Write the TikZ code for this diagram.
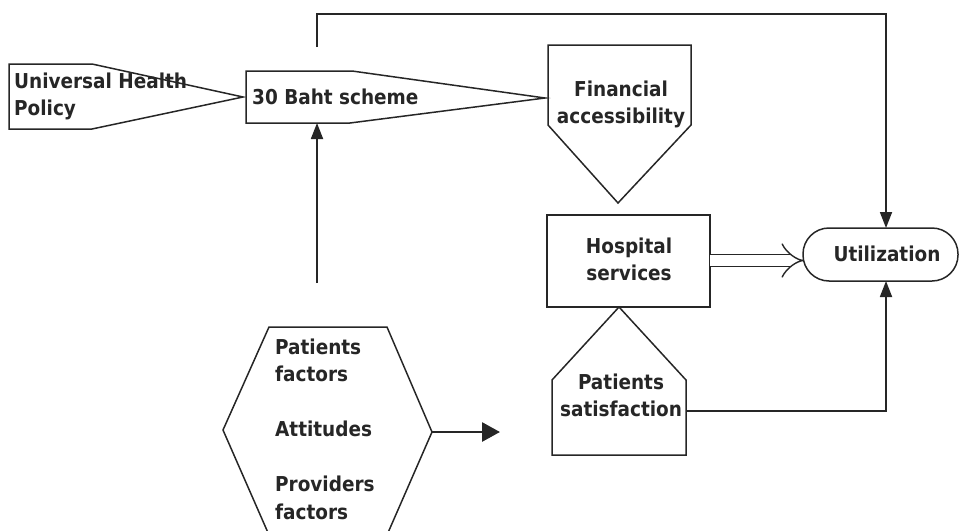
\documentclass[tikz,border=0pt]{standalone}
\usepackage{fontspec}
\setmainfont{DejaVu Sans Condensed}
\usetikzlibrary{arrows.meta}
\begin{document}
\begin{tikzpicture}[x=1pt,y=-1pt,
  shapeline/.style={draw=black!85, line width=1.5pt, line join=miter},
  lbl/.style={font=\bfseries\fontsize{20.5}{27}\selectfont, text=black!85, inner sep=0pt},
  conn/.style={draw=black!85, line width=1.8pt},
  tipA/.style={-{Triangle[length=16pt,width=12pt]}}]
\useasboundingbox (0,0) rectangle (960,530);
% shapes
\draw[shapeline] (9,64) -- (92,64) -- (243,97) -- (92,129) -- (9,129) -- cycle;
\draw[shapeline] (246,71) -- (352,71) -- (545,98) -- (350,123) -- (246,123) -- cycle;
\draw[shapeline] (548,45) -- (691,45) -- (691,125) -- (618,203) -- (548,125) -- cycle;
\draw[shapeline] (547,215) rectangle (710,307);
\draw[shapeline] (619,307) -- (686,380) -- (686,455) -- (552,455) -- (552,380) -- cycle;
\draw[shapeline] (269,327) -- (387,327) -- (432,432) -- (387,535) -- (269,535) -- (223,430) -- cycle;
\draw[shapeline, rounded corners=26pt] (803,228) rectangle (958,281);
% texts
\node[lbl, anchor=west, align=left] (uhp) at (14,96) {Universal Health\\Policy};
\node[lbl, anchor=west] (baht) at (252,97) {30 Baht scheme};
\node[lbl, align=center] (fin) at (621,104) {Financial\\accessibility};
\node[lbl, align=center] (hosp) at (629,259) {Hospital\\services};
\node[lbl] (util) at (887,254) {Utilization};
\node[lbl, align=center] (sat) at (621,395) {Patients\\satisfaction};
\node[lbl, anchor=west, align=left, font=\bfseries\fontsize{20.5}{27.5}\selectfont] (hex) at (275,429)
  {Patients\\factors\\[27.5pt]Attitudes\\[27.5pt]Providers\\factors};
% coordinates
\coordinate (bahtTop) at (317,47);
\coordinate (bahtBot) at (317,123);
\coordinate (cornerA) at (317,14);
\coordinate (cornerB) at (886,14);
\coordinate (utilTop) at (886,228);
\coordinate (utilBot) at (886,281);
\coordinate (satR) at (686,411);
\coordinate (cornerC) at (886,411);
\coordinate (vstart) at (317,283);
\coordinate (hexR) at (432,432);
\coordinate (hexEnd) at (500,432);
\coordinate (hospR) at (710,260.5);
\coordinate (utilL) at (804,260.5);
% connectors
\draw[conn, tipA] (bahtTop) -- (cornerA) -- (cornerB) -- (utilTop);
\draw[conn, tipA] (vstart) -- (bahtBot);
\draw[conn, tipA] (satR) -- (cornerC) -- (utilBot);
\draw[draw=black!85, line width=2.8pt, -{Triangle[length=18pt,width=19pt]}] (hexR) -- (hexEnd);
\draw[draw=black!85, line width=1.4pt, double distance=11pt, -{Implies}] (hospR) -- (utilL);
\end{tikzpicture}
\end{document}
